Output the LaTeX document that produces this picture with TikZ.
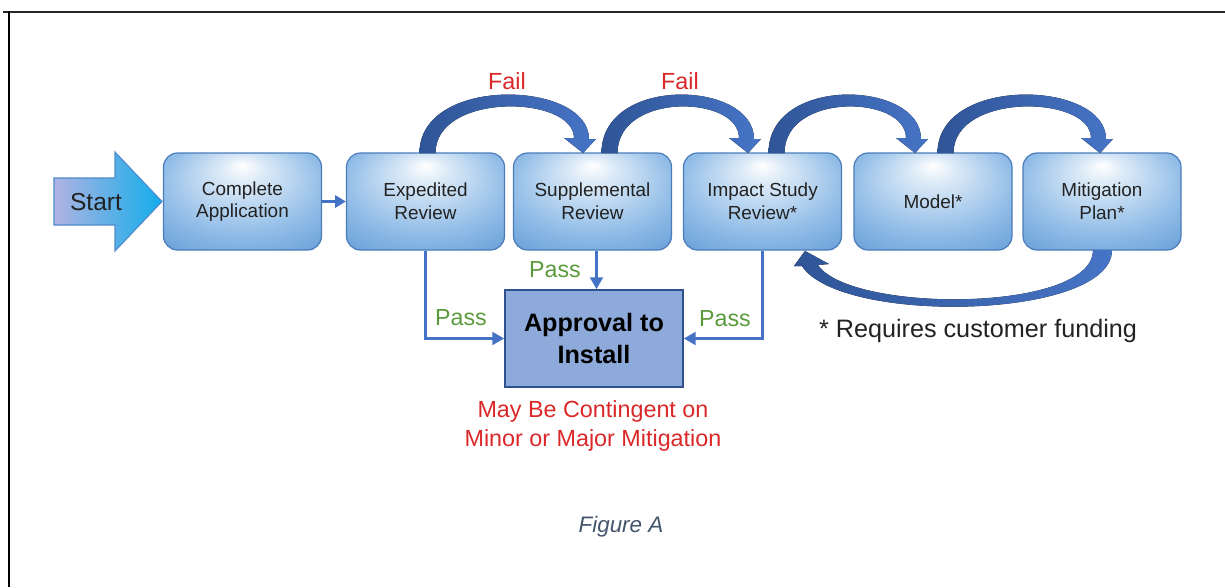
\documentclass[tikz,border=0pt]{standalone}
\usepackage{fontspec}
\setmainfont{Liberation Sans}
\usetikzlibrary{arrows.meta}
\definecolor{boxA}{HTML}{DCEAF7}
\definecolor{boxB}{HTML}{90BCE7}
\definecolor{boxC}{HTML}{5F98D4}
\definecolor{boxedge}{HTML}{4A7CBA}
\definecolor{boxtext}{HTML}{222222}
\definecolor{linkblue}{HTML}{4472C4}
\definecolor{arcdark}{HTML}{2F5597}
\definecolor{arcblue}{HTML}{4674C6}
\definecolor{failred}{HTML}{DA2828}
\definecolor{passgreen}{HTML}{5B9A3C}
\definecolor{apfill}{HTML}{8EAADB}
\definecolor{apedge}{HTML}{2F528F}
\definecolor{startL}{HTML}{B0B3E2}
\definecolor{startR}{HTML}{12ADEA}
\definecolor{startedge}{HTML}{4F8ACB}
\definecolor{figgray}{HTML}{44546A}
\pgfdeclareradialshading{boxshade}{\pgfpoint{0bp}{19bp}}{color(0bp)=(white); color(7bp)=(boxA); color(26bp)=(boxB); color(42bp)=(boxC); color(50bp)=(boxC)}
\newcommand\toparc[2]{%
  \fill[arcfill] (#1-8,153) .. controls (#1-8,75) and (#2+6,80) .. (#2+6,139)
    -- (#2+13,139) -- (#2,153) -- (#2-19,138) -- (#2-9,138)
    .. controls (#2-9,95) and (#1+8,92) .. (#1+8,153) -- cycle;}
\begin{document}
\begin{tikzpicture}[x=0.75pt,y=-0.75pt,
  box/.style={rounded corners=10.5pt, draw=boxedge, line width=0.9pt, shading=boxshade,
    minimum width=118.5pt, minimum height=72.75pt, align=center, text=boxtext,
    font=\fontsize{14.2}{17}\selectfont, inner sep=0pt},
  approve/.style={draw=apedge, line width=1.1pt, fill=apfill, minimum width=133.5pt,
    minimum height=72.75pt, align=center, inner sep=0pt,
    font=\bfseries\fontsize{18.9}{23.3}\selectfont, text=black},
  link/.style={draw=linkblue, line width=2.3pt, -{Triangle[length=9pt,width=9.5pt]}},
  smalllink/.style={draw=linkblue, line width=2.3pt, -{Triangle[length=8pt,width=9pt]}},
  passlbl/.style={text=passgreen, font=\fontsize{17.4}{20}\selectfont, inner sep=0pt},
  faillbl/.style={text=failred, font=\fontsize{17.5}{20}\selectfont, inner sep=0pt},
  arcfill/.style={left color=arcdark, right color=arcblue, draw=none}]
\useasboundingbox (0,0) rectangle (1225,587);
% frame
\draw[line width=1.5pt, black!85] (3,11.5) -- (1225,11.5);
\draw[line width=1.5pt, black] (9,11) -- (9,587);
% start arrow
\path[left color=startL, right color=startR, draw=startedge, line width=0.8pt]
  (54,178) -- (115,178) -- (115,152) -- (162,201.5) -- (115,251) -- (115,225) -- (54,225) -- cycle;
\node[text=boxtext, font=\fontsize{18.4}{20}\selectfont, inner sep=0pt] (start) at (96,202) {Start};
% boxes
\node[box] (CA) at (242.5,201.5) {Complete\\Application};
\node[box] (ER) at (425.5,201.5) {Expedited\\Review};
\node[box] (SR) at (592.5,201.5) {Supplemental\\Review};
\node[box] (IR) at (762.5,201.5) {Impact Study\\Review*};
\node[box] (MO) at (933,201.5) {Model*};
\node[box] (MP) at (1102,201.5) {Mitigation\\Plan*};
\node[approve] (AP) at (594,338.5) {Approval to\\Install};
% arrows
\draw[smalllink] (CA) -- (ER);
\draw[link] (ER.south) |- (AP.west);
\coordinate (st) at ([xshift=3pt]SR.south);
\draw[link] (st) -- (st |- AP.north);
\draw[link] (IR.south) |- (AP.east);
% curved block arrows
\toparc{427.5}{583}
\toparc{609.5}{748}
\toparc{776.5}{915}
\toparc{945.5}{1100}
\fill[arcfill] (1112,250) .. controls (1112,320) and (840,325) .. (802,266)
  -- (794,266) -- (805,251) -- (829,264) -- (818,265)
  .. controls (850,313) and (1093,313) .. (1093,250) -- cycle;
% labels
\node[faillbl] (f1) at (507,81) {Fail};
\node[faillbl] (f2) at (680,81) {Fail};
\node[passlbl] (p1) at (461,318) {Pass};
\node[passlbl] (p2) at (555,270) {Pass};
\node[passlbl] (p3) at (725,319) {Pass};
\node[text=failred, align=center, font=\fontsize{17.5}{21.75}\selectfont, inner sep=0pt] (cont) at (593,426) {May Be Contingent on\\Minor or Major Mitigation};
\node[text=boxtext, font=\fontsize{18.9}{22}\selectfont, anchor=base, inner sep=0pt] (req) at (978,337) {* Requires customer funding};
\node[text=figgray, font=\itshape\fontsize{16.8}{20}\selectfont, anchor=base, inner sep=0pt] (fig) at (621,532) {Figure A};
\end{tikzpicture}
\end{document}
